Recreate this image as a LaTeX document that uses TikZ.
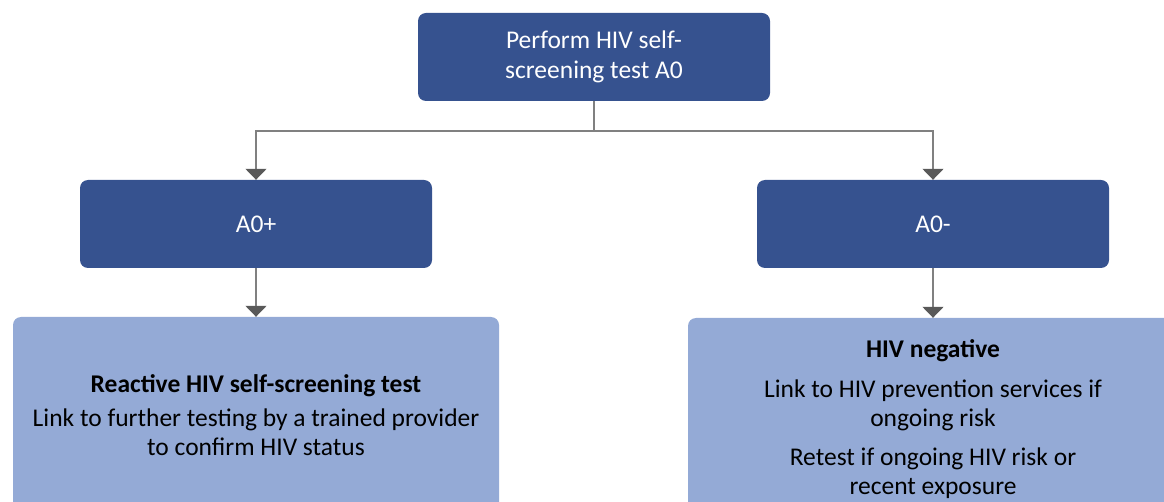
\documentclass[tikz,border=0pt]{standalone}
\usepackage{fontspec}
\setmainfont{Carlito}
\usetikzlibrary{arrows.meta,positioning}
\definecolor{darkbox}{RGB}{54,82,143}
\definecolor{lightbox}{RGB}{148,170,214}
\definecolor{linegray}{RGB}{128,128,128}
\definecolor{tipgray}{RGB}{89,89,89}

\begin{document}
\begin{tikzpicture}[x=1pt,y=-1pt,
  stepbox/.style={fill=darkbox, text=white, rounded corners=8pt, minimum width=352pt,
    minimum height=88pt, align=center, inner sep=0pt, font=\fontsize{25.5}{29.5}\selectfont},
  resultbox/.style={fill=lightbox, rounded corners=8pt, align=center, inner sep=0pt,
    font=\fontsize{25.5}{29}\selectfont},
  link/.style={draw=linegray, line width=1.5pt},
  arrow/.style={link, -{Triangle[width=21pt,length=11pt,color=tipgray]}}]
\useasboundingbox (0,0) rectangle (1164,502);
\clip (0,0) rectangle (1164,502);
% decision boxes
\node[stepbox] (test) at (594,57) {Perform HIV self-\\screening test A0};
\node[stepbox] (pos) at (256,224) {A0+};
\node[stepbox] (neg) at (933,224) {A0-};
% outcome boxes, cut off by the bottom edge
\node[resultbox, minimum width=486pt, minimum height=196pt] (react) at (256,415)
  {\textbf{Reactive HIV self-screening test}\\[5pt]
   Link to further testing by a trained provider\\to confirm HIV status};
\node[resultbox, minimum width=490pt, minimum height=202pt] (hivneg) at (933,419)
  {\textbf{HIV negative}\\[11pt]
   Link to HIV prevention services if\\ongoing risk\\[10pt]
   Retest if ongoing HIV risk or\\recent exposure};
% connectors
\coordinate (split) at (594,131);
\draw[link] (test.south) -- (split);
\draw[arrow] (split) -| (pos.north);
\draw[arrow] (split) -| (neg.north);
\draw[arrow] (pos) -- (react);
\draw[arrow] (neg) -- (hivneg);
\end{tikzpicture}
\end{document}
